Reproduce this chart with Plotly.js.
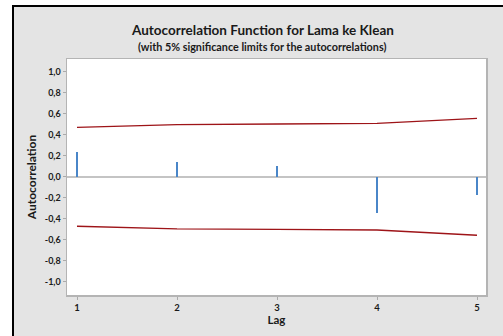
<!DOCTYPE html>
<html>
<head>
<meta charset="utf-8">
<script src="https://cdn.plot.ly/plotly-3.0.1.min.js"></script>
<style>
html,body{margin:0;padding:0;background:#ffffff;width:503px;height:336px;overflow:hidden;}
#frame{position:absolute;left:12px;top:5px;width:491px;height:331px;border-left:2px solid #000;border-top:2px solid #000;box-sizing:border-box;}
#chart{width:489px;height:329px;}
</style>
</head>
<body>
<div id="frame"><div id="chart"></div></div>
<script>
const lags = [1, 2, 3, 4, 5];
const acf = [0.232, 0.137, 0.100, -0.349, -0.171];
const upperLimit = [0.470, 0.495, 0.502, 0.508, 0.556];
const lowerLimit = [-0.472, -0.498, -0.501, -0.508, -0.558];
const yTickValues = [-1.0, -0.8, -0.6, -0.4, -0.2, 0.0, 0.2, 0.4, 0.6, 0.8, 1.0];
const yTickLabels = ["-1,0", "-0,8", "-0,6", "-0,4", "-0,2", "0,0", "0,2", "0,4", "0,6", "0,8", "1,0"];
const xTickValues = [1, 2, 3, 4, 5];
const xTickLabels = ["1", "2", "3", "4", "5"];

const font = "Lato, 'Open Sans', sans-serif";
const txt = "#1a1a1a";

const traces = [
  {type: "bar", x: lags, y: acf, base: 0, width: 0.02,
   marker: {color: "#4a86c8", line: {width: 0}}, hoverinfo: "skip"},
  {type: "scatter", mode: "lines", x: lags, y: upperLimit,
   line: {color: "#9e1418", width: 1.3}, hoverinfo: "skip"},
  {type: "scatter", mode: "lines", x: lags, y: lowerLimit,
   line: {color: "#9e1418", width: 1.3}, hoverinfo: "skip"}
];

const layout = {
  width: 489, height: 329,
  margin: {l: 53, r: 17, t: 52, b: 41, pad: 0},
  paper_bgcolor: "#e4e4e4",
  plot_bgcolor: "#ffffff",
  showlegend: false,
  font: {family: font, color: txt},
  bargap: 0,
  xaxis: {
    range: [0.9, 5.09], tickvals: xTickValues, ticktext: xTickLabels,
    ticks: "outside", ticklen: 3, tickcolor: "#aaaaaa", tickwidth: 1,
    showline: true, linecolor: "#b4b4b4", linewidth: 1.5, mirror: true,
    showgrid: false, zeroline: false,
    tickfont: {family: font, size: 9.5, color: txt, weight: "bold"},
    title: {text: "Lag", font: {family: font, size: 11.5, color: txt, weight: "bold"}, standoff: 3}
  },
  yaxis: {
    range: [-1.127, 1.121], tickvals: yTickValues, ticktext: yTickLabels,
    ticks: "outside", ticklen: 3, tickcolor: "#aaaaaa", tickwidth: 1,
    showline: true, linecolor: "#b4b4b4", linewidth: 1.5, mirror: true,
    showgrid: false, zeroline: true, zerolinecolor: "#c4c4c4", zerolinewidth: 2,
    tickfont: {family: font, size: 9, color: txt, weight: "bold"},
    title: {text: "Autocorrelation", font: {family: font, size: 12, color: txt, weight: "bold"}, standoff: 5}
  },
  annotations: [
    {text: "Autocorrelation Function for Lama ke Klean", xref: "paper", yref: "paper",
     x: 0.4665, y: 1.121, xanchor: "center", yanchor: "middle", showarrow: false,
     font: {family: font, size: 13.5, color: txt, weight: "bold"}},
    {text: "(with 5% significance limits for the autocorrelations)", xref: "paper", yref: "paper",
     x: 0.4665, y: 1.053, xanchor: "center", yanchor: "middle", showarrow: false,
     font: {family: font, size: 10.8, color: txt, weight: "bold"}}
  ]
};

Plotly.newPlot("chart", traces, layout, {displayModeBar: false, staticPlot: true});
</script>
</body>
</html>
